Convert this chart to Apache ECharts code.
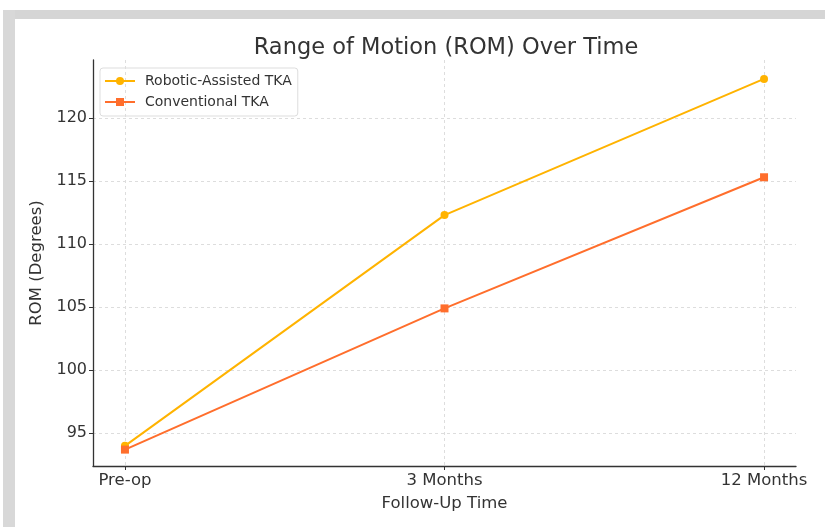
<!DOCTYPE html>
<html><head><meta charset="utf-8">
<script src="https://cdn.jsdelivr.net/npm/echarts@6/dist/echarts.min.js"></script>
<style>html,body{margin:0;padding:0;background:#fff;}#c{width:825px;height:527px;}</style>
</head><body><div id="c"></div>
<script>
const categories = ['Pre-op', '3 Months', '12 Months'];
const roboticTKA = [94.0, 112.3, 123.1];
const conventionalTKA = [93.7, 104.9, 115.3];
const yTicks = [95, 100, 105, 110, 115, 120];
const catIndex = [0, 1, 2];

const chart = echarts.init(document.getElementById('c'), null, {renderer: 'canvas'});
const font = 'DejaVu Sans';
const toPts = arr => arr.map((v, i) => [catIndex[i], v]);
chart.setOption({
  animation: false,
  backgroundColor: '#fff',
  title: {
    text: 'Range of Motion (ROM) Over Time',
    left: 441, top: 32, textAlign: 'center',
    textStyle: {fontFamily: font, fontSize: 22.5, fontWeight: 'normal', color: '#333'}
  },
  graphic: [
    {type: 'rect', shape: {x: 3, y: 10, width: 822, height: 9}, style: {fill: '#d5d5d5'}, z: 100},
    {type: 'rect', shape: {x: 3, y: 10, width: 12, height: 517}, style: {fill: '#d8d8d8'}, z: 100}
  ],
  legend: {
    left: 100, top: 68, orient: 'vertical', itemGap: 7,
    itemWidth: 30, itemHeight: 10,
    padding: [6, 6, 7, 4],
    borderColor: '#ddd', borderWidth: 1, borderRadius: 3,
    textStyle: {fontFamily: font, fontSize: 14, color: '#333', padding: [0, 0, 0, 5]},
    data: ['Robotic-Assisted TKA', 'Conventional TKA']
  },
  grid: {left: 93, right: 29, top: 60, bottom: 61, containLabel: false},
  xAxis: {
    type: 'value', min: -0.1, max: 2.1,
    name: 'Follow-Up Time', nameLocation: 'middle', nameGap: 29,
    nameTextStyle: {fontFamily: font, fontSize: 16.5, color: '#333'},
    axisLine: {onZero: false, lineStyle: {color: '#333', width: 1.3}},
    axisTick: {show: true, length: 4, lineStyle: {color: '#333'}, customValues: catIndex},
    axisLabel: {customValues: catIndex, formatter: v => categories[Math.round(v)] || '', fontFamily: font, fontSize: 16.5, color: '#333', margin: 6},
    splitLine: {show: true, lineStyle: {color: '#ddd', type: [3, 3], width: 1}}
  },
  yAxis: {
    type: 'value', min: 92.4, max: 124.6,
    name: 'ROM (Degrees)', nameLocation: 'middle', nameGap: 42,
    nameTextStyle: {fontFamily: font, fontSize: 16.5, color: '#333'},
    axisLine: {show: true, onZero: false, lineStyle: {color: '#333', width: 1.3}},
    axisTick: {show: true, length: 4, lineStyle: {color: '#333'}, customValues: yTicks},
    axisLabel: {customValues: yTicks, fontFamily: font, fontSize: 16, color: '#333', margin: 6},
    splitLine: {show: true, lineStyle: {color: '#ddd', type: [3, 3], width: 1}}
  },
  series: [
    {name: 'Robotic-Assisted TKA', type: 'line', data: toPts(roboticTKA),
     symbol: 'circle', symbolSize: 8, color: '#FFB300',
     lineStyle: {width: 2, color: '#FFB300'}, itemStyle: {color: '#FFB300'}},
    {name: 'Conventional TKA', type: 'line', data: toPts(conventionalTKA),
     symbol: 'rect', symbolSize: 8, color: '#FF6E2C',
     lineStyle: {width: 2, color: '#FF6E2C'}, itemStyle: {color: '#FF6E2C'}}
  ]
});
</script></body></html>
